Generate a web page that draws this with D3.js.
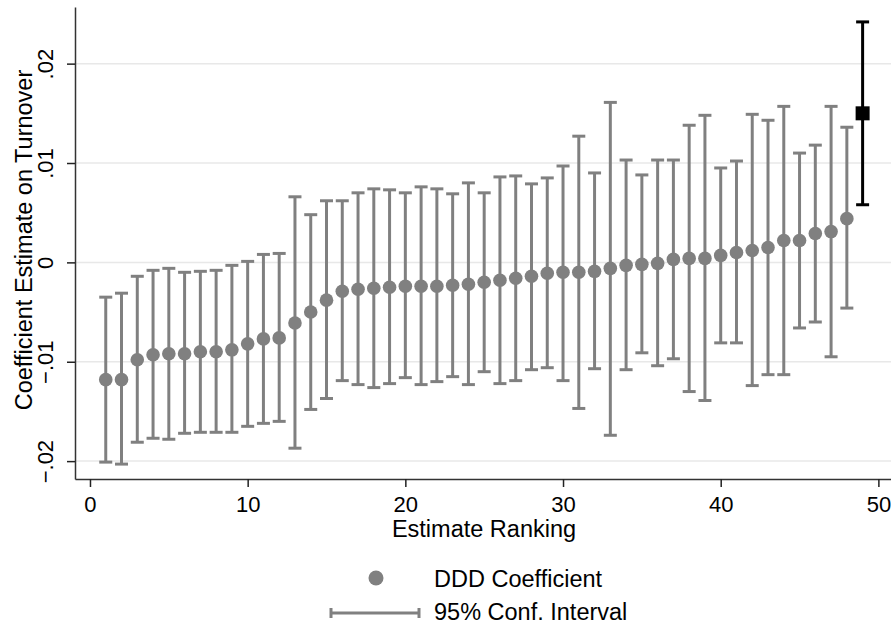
<!DOCTYPE html>
<html>
<head>
<meta charset="utf-8">
<script src="https://cdn.jsdelivr.net/npm/d3@7"></script>
<style>
  html, body { margin: 0; padding: 0; background: #fff; }
  svg { display: block; font-family: "Liberation Sans", Arial, Helvetica, sans-serif; }
</style>
</head>
<body>
<svg id="chart" width="891" height="626"></svg>
<script>
// ranked placebo estimates (gray) and the actual DDD estimate (black)
const ranks = [1, 2, 3, 4, 5, 6, 7, 8, 9, 10, 11, 12, 13, 14, 15, 16, 17, 18, 19, 20, 21, 22, 23, 24,
  25, 26, 27, 28, 29, 30, 31, 32, 33, 34, 35, 36, 37, 38, 39, 40, 41, 42, 43, 44, 45, 46, 47, 48];
const estimates = [-0.0118, -0.0118, -0.0098, -0.0093, -0.0092, -0.0092, -0.0090, -0.0090, -0.0088, -0.0082,
  -0.0077, -0.0076, -0.0061, -0.0050, -0.0038, -0.0029, -0.0027, -0.0026, -0.0025, -0.0024,
  -0.0024, -0.0024, -0.0023, -0.0022, -0.0020, -0.0018, -0.0016, -0.0014, -0.0011, -0.0010,
  -0.0010, -0.0009, -0.0006, -0.0003, -0.0002, -0.0001, 0.0003, 0.0004, 0.0004, 0.0007,
  0.0010, 0.0012, 0.0015, 0.0022, 0.0022, 0.0029, 0.0031, 0.0044];
const lower = [-0.0201, -0.0203, -0.0181, -0.0177, -0.0178, -0.0172, -0.0171, -0.0171, -0.0171, -0.0165,
  -0.0162, -0.0160, -0.0187, -0.0148, -0.0137, -0.0119, -0.0123, -0.0126, -0.0122, -0.0116,
  -0.0123, -0.0120, -0.0115, -0.0123, -0.0110, -0.0122, -0.0119, -0.0108, -0.0106, -0.0119,
  -0.0147, -0.0107, -0.0174, -0.0108, -0.0091, -0.0104, -0.0097, -0.0130, -0.0139, -0.0081,
  -0.0081, -0.0124, -0.0113, -0.0113, -0.0066, -0.0060, -0.0095, -0.0046];
const upper = [-0.0035, -0.0031, -0.0014, -0.0008, -0.0006, -0.0010, -0.0009, -0.0008, -0.0003, 0.0001,
  0.0008, 0.0009, 0.0066, 0.0048, 0.0062, 0.0062, 0.0070, 0.0074, 0.0073, 0.0070,
  0.0076, 0.0074, 0.0069, 0.0080, 0.0070, 0.0086, 0.0087, 0.0079, 0.0085, 0.0097,
  0.0127, 0.0090, 0.0161, 0.0103, 0.0088, 0.0103, 0.0103, 0.0138, 0.0148, 0.0095,
  0.0102, 0.0149, 0.0143, 0.0157, 0.0110, 0.0118, 0.0157, 0.0136];
const actualRank = [49];
const actualEstimate = [0.0150];
const actualLower = [0.0058];
const actualUpper = [0.0242];
const xTicks = [0, 10, 20, 30, 40, 50];
const yTicks = [-0.02, -0.01, 0, 0.01, 0.02];

const svg = d3.select('#chart');
const margin = { top: 7, right: 0, bottom: 147, left: 75 };
const W = 891, H = 626;
const gray = '#808080';
const tickFont = '22px';
const titleFont = '23.5px';

const x = d3.scaleLinear().domain([-0.95, 50.8]).range([margin.left, W - margin.right]);
const y = d3.scaleLinear().domain([-0.0218, 0.0257]).range([H - margin.bottom, margin.top]);

const placebo = ranks.map((r, i) => ({ r, est: estimates[i], lo: lower[i], hi: upper[i] }));
const actual = actualRank.map((r, i) => ({ r, est: actualEstimate[i], lo: actualLower[i], hi: actualUpper[i] }));

const fmt = d => d === 0 ? '0' : d3.format('.2f')(d).replace('0.', '.');

// gridlines
svg.append('g')
  .selectAll('line')
  .data(yTicks)
  .enter()
  .append('line')
  .attr('x1', margin.left).attr('x2', W)
  .attr('y1', d => y(d)).attr('y2', d => y(d))
  .attr('stroke', '#e8e8e8')
  .attr('stroke-width', 1.5);

// y axis
const yAxis = svg.append('g')
  .attr('transform', `translate(${margin.left},0)`)
  .call(d3.axisLeft(y).tickValues(yTicks).tickFormat(fmt).tickSize(8).tickSizeOuter(0));
yAxis.select('.domain').attr('stroke', '#333').attr('stroke-width', 1.5);
yAxis.selectAll('.tick line').attr('stroke', '#222').attr('stroke-width', 1.5);
yAxis.selectAll('.tick text')
  .attr('transform', 'rotate(-90)')
  .attr('x', 0).attr('y', -22).attr('dy', 0)
  .attr('text-anchor', 'middle')
  .style('font-size', tickFont)
  .style('fill', '#000');

// x axis
const xAxis = svg.append('g')
  .attr('transform', `translate(0,${H - margin.bottom})`)
  .call(d3.axisBottom(x).tickValues(xTicks).tickSize(8).tickSizeOuter(0));
xAxis.select('.domain').attr('stroke', '#333').attr('stroke-width', 1.5);
xAxis.selectAll('.tick line').attr('stroke', '#222').attr('stroke-width', 1.5);
xAxis.selectAll('.tick text')
  .attr('y', 33).attr('dy', 0)
  .style('font-size', tickFont)
  .style('fill', '#000');

// axis titles
svg.append('text')
  .attr('transform', 'translate(32,240) rotate(-90)')
  .attr('text-anchor', 'middle')
  .style('font-size', titleFont)
  .text('Coefficient Estimate on Turnover');

svg.append('text')
  .attr('x', 484).attr('y', 537)
  .attr('text-anchor', 'middle')
  .style('font-size', titleFont)
  .text('Estimate Ranking');

// error bars
function drawBars(data, color) {
  const g = svg.append('g').attr('stroke', color).attr('stroke-width', 3);
  g.selectAll('.stem').data(data).enter().append('line')
    .attr('x1', d => x(d.r)).attr('x2', d => x(d.r))
    .attr('y1', d => y(d.lo)).attr('y2', d => y(d.hi));
  g.selectAll('.capHi').data(data).enter().append('line')
    .attr('x1', d => x(d.r) - 6.5).attr('x2', d => x(d.r) + 6.5)
    .attr('y1', d => y(d.hi)).attr('y2', d => y(d.hi));
  g.selectAll('.capLo').data(data).enter().append('line')
    .attr('x1', d => x(d.r) - 6.5).attr('x2', d => x(d.r) + 6.5)
    .attr('y1', d => y(d.lo)).attr('y2', d => y(d.lo));
}
drawBars(placebo, gray);
drawBars(actual, '#000');

svg.append('g').selectAll('circle')
  .data(placebo)
  .enter()
  .append('circle')
  .attr('cx', d => x(d.r))
  .attr('cy', d => y(d.est))
  .attr('r', 6.8)
  .attr('fill', gray);

svg.append('g').selectAll('rect')
  .data(actual)
  .enter()
  .append('rect')
  .attr('x', d => x(d.r) - 7)
  .attr('y', d => y(d.est) - 7)
  .attr('width', 14).attr('height', 14)
  .attr('fill', '#000');

// legend
const legend = svg.append('g');
legend.append('circle').attr('cx', 376).attr('cy', 578).attr('r', 7.5).attr('fill', gray);
legend.append('text').attr('x', 434).attr('y', 587).style('font-size', titleFont).text('DDD Coefficient');
legend.append('line').attr('x1', 331).attr('x2', 419).attr('y1', 613).attr('y2', 613)
  .attr('stroke', gray).attr('stroke-width', 3);
legend.append('line').attr('x1', 331).attr('x2', 331).attr('y1', 608).attr('y2', 618)
  .attr('stroke', gray).attr('stroke-width', 3);
legend.append('line').attr('x1', 419).attr('x2', 419).attr('y1', 608).attr('y2', 618)
  .attr('stroke', gray).attr('stroke-width', 3);
legend.append('text').attr('x', 434).attr('y', 620).style('font-size', titleFont).text('95% Conf. Interval');
</script>
</body>
</html>
